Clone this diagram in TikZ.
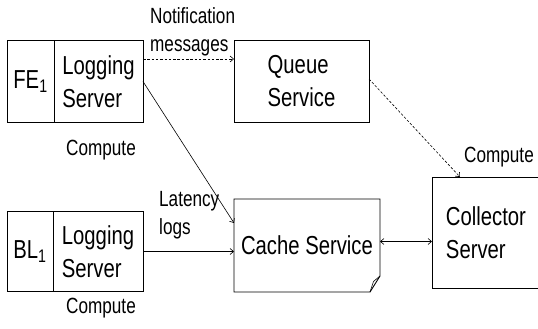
\documentclass[tikz,border=0pt]{standalone}
\usepackage{fontspec}
\setmainfont[FakeStretch=0.78]{Liberation Sans}
\usetikzlibrary{arrows.meta,positioning}

\begin{document}
\begin{tikzpicture}[
  x=1pt, y=1pt,
  font=\fontsize{26}{33}\selectfont,
  cell/.style={rectangle, draw=black, line width=0.9pt, inner sep=0pt, outer sep=0pt, align=left, minimum height=82pt},
  box/.style={rectangle, draw=black, line width=0.9pt, inner sep=0pt, outer sep=0pt, align=left},
  lbl/.style={inner sep=0pt, align=left, font=\fontsize{22}{28}\selectfont},
  tip/.tip={Straight Barb[length=3.5pt,width=6pt]},
  arr/.style={-tip, line width=0.6pt},
  dasharr/.style={arr, dash pattern=on 2.5pt off 1.8pt}
]
\useasboundingbox (0,0) rectangle (538,329);
\clip (0,0) rectangle (538,329);

% Front end host
\node[cell, minimum width=47pt] (fe) at (30.5,247.5) {FE\textsubscript{1}};
\node[cell, minimum width=89pt, right=0pt of fe] (felog) {Logging\\Server};
\node[lbl] (fecomp) at (101,179) {Compute};

% Backend host
\node[cell, minimum width=46pt, minimum height=80pt] (bl) at (30,77.5) {BL\textsubscript{1}};
\node[cell, minimum width=90pt, minimum height=80pt, right=0pt of bl] (bllog) {Logging\\Server};
\node[lbl] (blcomp) at (101,21) {Compute};

% Services
\node[box, minimum width=135pt, minimum height=82pt] (queue) at (301.5,248) {Queue\\Service};
\node[box, draw=none, minimum width=146pt, minimum height=93pt] (cache) at (307,83.5) {Cache Service};
\draw[line width=0.9pt] (cache.north west) -- (cache.north east) -- ([yshift=16]cache.south east)
  -- ([xshift=-10]cache.south east) -- (cache.south west) -- cycle;
\draw[line width=0.6pt] ([xshift=-10]cache.south east) -- ([xshift=-6.5,yshift=10.5]cache.south east)
  -- ([yshift=16]cache.south east);
\node[box, minimum width=108pt, minimum height=111pt] (coll) at (486,96.5) {Collector\\Server};
\node[lbl] (collcomp) at (499,172) {Compute};

% Labels
\node[lbl, anchor=west] (notif) at (150,297) {Notification\\messages};
\node[lbl, anchor=west] (lat) at (159,114) {Latency\\logs};

% Connections
\draw[dasharr] ([yshift=22.5]felog.east) -- ([yshift=22.5]felog.east -| queue.west);
\draw[arr] (felog.east) -- ([yshift=22.5]cache.west);
\draw[arr] (bllog.east) -- (bllog.east -| cache.west);
\draw[tip-tip, line width=0.6pt] ([yshift=4]cache.east) -- ([yshift=4]cache.east -| coll.west);
\draw[dasharr] ([yshift=2]queue.east) -- ([xshift=-26]coll.north);

\end{tikzpicture}
\end{document}
